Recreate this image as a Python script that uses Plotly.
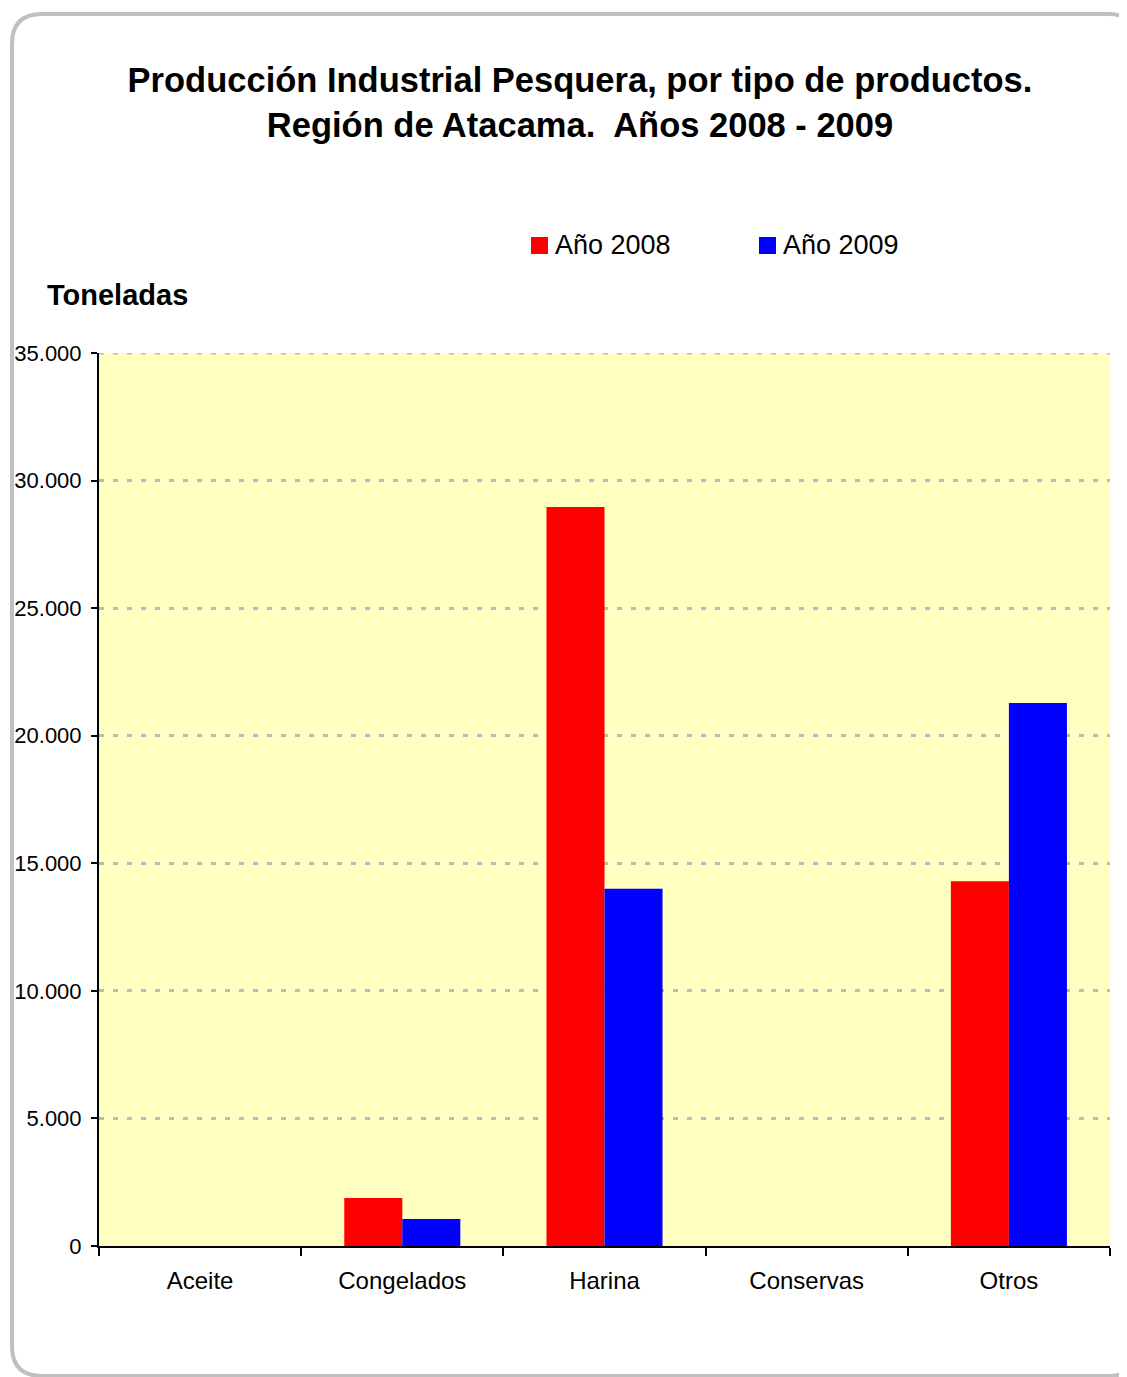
import plotly.graph_objects as go

categories = ["Aceite", "Congelados", "Harina", "Conservas", "Otros"]
values_2008 = [0, 1880, 28960, 0, 14300]
values_2009 = [0, 1060, 14000, 0, 21280]
series_names = ["Año 2008", "Año 2009"]
series_colors = ["#FF0000", "#0000FF"]
y_ticks = [0, 5000, 10000, 15000, 20000, 25000, 30000, 35000]

OFF = 8  # page body margin
W, H = 1127 - OFF, 1377 - OFF
# plot area in reference pixels: x 99..1110, y 353..1246
ML, MT = 99 - OFF, 353 - OFF
MR = W - (1110 - OFF)
MB = H - (1246 - OFF)
PW, PH = W - ML - MR, H - MT - MB


def px(x):
    """reference pixel x -> paper x"""
    return (x - OFF - ML) / PW


def py(y):
    """reference pixel y -> paper y"""
    return (H - MB - (y - OFF)) / PH


font = "Liberation Sans, Arial, sans-serif"

fig = go.Figure()
for name, vals, col in zip(series_names, [values_2008, values_2009], series_colors):
    fig.add_trace(go.Bar(x=categories, y=vals, name=name, showlegend=False,
                         marker=dict(color=col, line=dict(width=0))))

# rounded border
x0, y0, x1, y1, r = 12, 14, 1138, 1376, 30
path = (f"M {px(x0)},{py(y0 + r)} Q {px(x0)},{py(y0)} {px(x0 + r)},{py(y0)} "
        f"L {px(x1 - r)},{py(y0)} Q {px(x1)},{py(y0)} {px(x1)},{py(y0 + r)} "
        f"L {px(x1)},{py(y1 - r)} Q {px(x1)},{py(y1)} {px(x1 - r)},{py(y1)} "
        f"L {px(x0 + r)},{py(y1)} Q {px(x0)},{py(y1)} {px(x0)},{py(y1 - r)} Z")

shapes = [dict(type="path", path=path, xref="paper", yref="paper",
               line=dict(color="#C0C0C0", width=4), fillcolor="rgba(0,0,0,0)",
               layer="below"),
          dict(type="line", xref="paper", yref="y", x0=0, x1=1,
               y0=y_ticks[-1], y1=y_ticks[-1],
               line=dict(color="#BBBBBB", width=3, dash="5px,9px"), layer="above")]

annotations = [dict(text="<b>Toneladas</b>", xref="paper", yref="paper",
                    x=px(45), y=py(295), xanchor="left", yanchor="middle",
                    showarrow=False, font=dict(size=29, family=font, color="black"))]

# legend drawn manually (larger squares like the reference)
legend_x = [531, 759]
for name, col, lx in zip(series_names, series_colors, legend_x):
    shapes.append(dict(type="rect", xref="paper", yref="paper",
                       x0=px(lx), x1=px(lx + 17), y0=py(254), y1=py(237),
                       fillcolor=col, line=dict(width=0)))
    annotations.append(dict(text=name, xref="paper", yref="paper",
                            x=px(lx + 22), y=py(245), xanchor="left", yanchor="middle",
                            showarrow=False,
                            font=dict(size=27, family=font, color="black")))

fig.update_layout(
    width=W, height=H,
    margin=dict(l=ML, r=MR, t=MT, b=MB, autoexpand=False),
    paper_bgcolor="white",
    plot_bgcolor="#FFFFC0",
    separators=",.",
    barmode="group",
    bargap=0.426,
    bargroupgap=0,
    showlegend=False,
    font=dict(family=font, color="black"),
    title=dict(
        text="<b>Producción Industrial Pesquera, por tipo de productos.<br>Región de Atacama.  Años 2008 - 2009</b>",
        x=px(580), xanchor="center", xref="paper",
        y=1 - (92 - OFF) / H, yanchor="middle",
        font=dict(size=34.5, family=font, color="black"),
    ),
    xaxis=dict(
        automargin=False,
        showline=True, linecolor="black", linewidth=2,
        ticks="outside", tickson="boundaries", ticklen=8, tickwidth=2, tickcolor="black",
        tickfont=dict(size=24, family=font, color="black"),
        ticklabelstandoff=12,
        showgrid=False,
    ),
    yaxis=dict(
        automargin=False,
        range=[0, 35000],
        tickvals=y_ticks,
        tickformat=",d",
        showline=True, linecolor="black", linewidth=2,
        ticks="outside", ticklen=6, tickwidth=2, tickcolor="black",
        tickfont=dict(size=22, family=font, color="black"),
        ticklabelstandoff=5,
        showgrid=True, gridcolor="#BBBBBB", gridwidth=3, griddash="5px,9px",
        zeroline=False,
    ),
    shapes=shapes,
    annotations=annotations,
)

fig.write_html("out.html")
